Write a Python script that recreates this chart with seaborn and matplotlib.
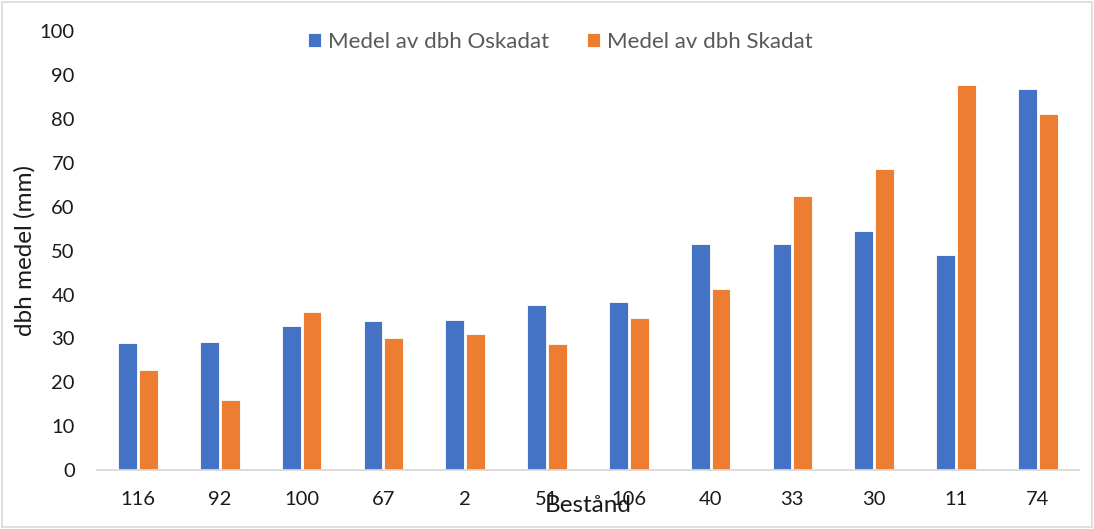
import numpy as np
import pandas as pd
import matplotlib
matplotlib.use("Agg")
import matplotlib.pyplot as plt
import seaborn as sns
from matplotlib.patches import Rectangle

bestand = ["116", "92", "100", "67", "2", "51", "106", "40", "33", "30", "11", "74"]
oskadat = [28.9, 29.3, 32.9, 34.0, 34.2, 37.7, 38.3, 51.5, 51.6, 54.5, 49.1, 86.9]
skadat = [22.8, 16.0, 36.1, 30.0, 31.0, 28.7, 34.6, 41.3, 62.5, 68.6, 87.8, 81.2]
series = ["Medel av dbh Oskadat", "Medel av dbh Skadat"]
colors = ["#4472C4", "#ED7D31"]

df = pd.DataFrame({
    "Bestånd": bestand * 2,
    "value": oskadat + skadat,
    "serie": [series[0]] * len(bestand) + [series[1]] * len(bestand),
})

sns.set_style("white")
plt.rcParams["font.family"] = ["Lato", "DejaVu Sans"]

fig = plt.figure(figsize=(10.94, 5.29), dpi=100)
ax = fig.add_axes([0.0887, 0.1115, 0.8973, 0.829])

sns.barplot(data=df, x="Bestånd", y="value", hue="serie", order=bestand,
            hue_order=series, palette=colors, width=0.51, gap=0.1,
            edgecolor="white", linewidth=0.6, saturation=1, ax=ax)

ax.set_ylim(0, 100)
ax.set_xlim(-0.5, len(bestand) - 0.5)
ax.set_yticks(np.arange(0, 101, 10))
sns.despine(ax=ax, left=True)
ax.spines["bottom"].set_color("#D9D9D9")
ax.spines["bottom"].set_linewidth(1.3)
ax.tick_params(axis="both", length=0, labelsize=14.5, labelcolor="#1a1a1a")
ax.tick_params(axis="x", pad=15)
ax.tick_params(axis="y", pad=16)

ax.set_ylabel("dbh medel (mm)", fontsize=17.5, color="#1a1a1a")
ax.yaxis.set_label_coords(-0.063, 0.5)
ax.set_xlabel("Bestånd", fontsize=17.5, color="#1a1a1a")
ax.xaxis.set_label_coords(0.5, -0.058)

handles, labels = ax.get_legend_handles_labels()
ax.legend_.remove()
fig.legend(handles, labels, loc="center", bbox_to_anchor=(0.512, 0.921),
           ncol=2, frameon=False, fontsize=16, labelcolor="#595959",
           handlelength=0.6, handleheight=0.6, handletextpad=0.3,
           columnspacing=1.7)

fig.patches.append(Rectangle((0.002, 0.003), 0.996, 0.994, transform=fig.transFigure,
                             fill=False, edgecolor="#D9D9D9", linewidth=1.2))

fig.savefig("out.png", dpi=100)
